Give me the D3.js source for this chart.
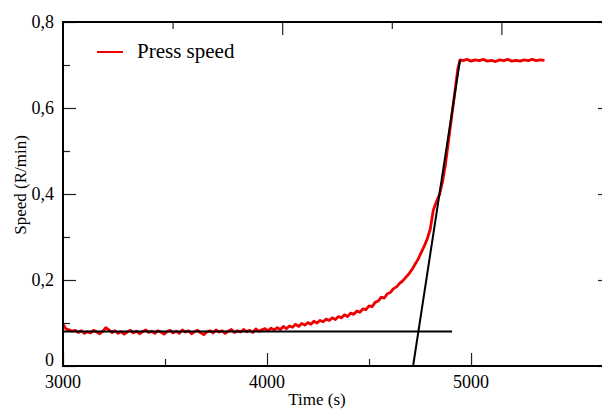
<!DOCTYPE html>
<html>
<head>
<meta charset="utf-8">
<script src="https://cdn.jsdelivr.net/npm/d3@7"></script>
<style>
  html, body { margin: 0; padding: 0; background: #fff; }
  svg { display: block; }
</style>
</head>
<body>
<svg id="chart" width="602" height="410"></svg>
<script>
// ---- data ----
const times = [
  3000,3015,3030,3045,3060,3075,3090,3105,3120,3135,3150,3165,3180,3195,3210,3225,3240,3255,3270,3285,
  3300,3315,3330,3345,3360,3375,3390,3405,3420,3435,3450,3465,3480,3495,3510,3525,3540,3555,3570,3585,
  3600,3615,3630,3645,3660,3675,3690,3705,3720,3735,3750,3765,3780,3795,3810,3825,3840,3855,3870,3885,
  3900,3915,3930,3945,3960,3975,3990,
  4005,4020,4035,4050,4065,4080,4095,4110,4125,4140,4155,4170,4185,4200,4215,4230,4245,4260,4275,4290,
  4305,4320,4335,4350,4365,4380,4395,4410,4425,4440,4455,4470,4485,4500,4515,4530,4545,4560,4575,4590,
  4605,4620,4635,4650,4665,4680,4695,4710,4725,4740,4755,4770,4785,4800,4815,4830,4845,4860,4875,4890,
  4905,4920,4935,4946,
  4960,4980,5000,5020,5040,5060,5080,5100,5120,5140,5160,5180,5200,5220,5240,5260,5280,5300,5320,5340,5360
];
const pressSpeed = [
  0.097,0.086,0.084,0.081,0.083,0.078,0.082,0.076,0.080,0.077,0.083,0.079,0.075,0.081,0.089,0.084,0.078,0.082,0.076,0.080,
  0.074,0.079,0.083,0.077,0.081,0.075,0.080,0.084,0.078,0.081,0.076,0.082,0.079,0.074,0.080,0.083,0.077,0.081,0.076,0.084,
  0.079,0.082,0.075,0.080,0.083,0.077,0.073,0.079,0.082,0.077,0.084,0.079,0.082,0.076,0.081,0.085,0.078,0.082,0.079,0.085,
  0.080,0.083,0.078,0.086,0.081,0.084,0.087,
  0.082,0.088,0.084,0.089,0.085,0.092,0.087,0.093,0.090,0.097,0.092,0.099,0.095,0.101,0.097,0.104,0.100,0.106,0.103,0.109,
  0.106,0.112,0.108,0.115,0.112,0.119,0.115,0.123,0.120,0.128,0.125,0.133,0.131,0.140,0.138,0.148,0.151,0.160,0.158,0.168,
  0.171,0.180,0.184,0.192,0.198,0.206,0.214,0.224,0.236,0.248,0.263,0.278,0.295,0.318,0.362,0.382,0.398,0.428,0.470,0.525,
  0.580,0.635,0.690,0.712,
  0.710,0.713,0.709,0.712,0.710,0.713,0.709,0.711,0.708,0.712,0.710,0.713,0.709,0.711,0.709,0.712,0.710,0.713,0.710,0.712,0.711
];
const baseFitT = [3000, 4907];
const baseFitV = [0.08, 0.08];
const rampFitT = [4716, 4946];
const rampFitV = [0, 0.712];
const yTicks = [0, 0.2, 0.4, 0.6, 0.8];
const yMinorTicks = [0.1, 0.3, 0.5, 0.7];
const yTickLabels = ["0", "0,2", "0,4", "0,6", "0,8"];
const xTicks = [3000, 4000, 5000];
const xMinorTicks = [3500, 4500];
const xTickLabels = ["3000", "4000", "5000"];
const topTicks = [4000, 5000];
const topMinorTicks = [3500, 4500];
const seriesName = "Press speed";

// ---- layout ----
const FONT = "'Liberation Serif', 'Times New Roman', serif";
const svg = d3.select("#chart");
const L = 63, R = 611, T = 22, B = 366;
const x = d3.scaleLinear().domain([3000, 5686]).range([L, R]);
const xTop = d3.scaleLinear().domain([3000, 5500]).range([L, R]);
const y = d3.scaleLinear().domain([0, 0.8]).range([B, T]);

svg.append("rect").attr("width", 602).attr("height", 410).attr("fill", "#fff");

// data lines
const line = d3.line().x(d => x(d[0])).y(d => y(d[1]));
svg.append("path")
  .datum(times.map((t, i) => [t, pressSpeed[i]]))
  .attr("d", line)
  .attr("fill", "none").attr("stroke", "#ee0000")
  .attr("stroke-width", 2.8).attr("stroke-linejoin", "round");

svg.append("path")
  .datum(baseFitT.map((t, i) => [t, baseFitV[i]]))
  .attr("d", line).attr("fill", "none").attr("stroke", "#000").attr("stroke-width", 2);
svg.append("path")
  .datum(rampFitT.map((t, i) => [t, rampFitV[i]]))
  .attr("d", line).attr("fill", "none").attr("stroke", "#000").attr("stroke-width", 2);

// axes
const gB = svg.append("g").attr("transform", `translate(0,${B})`)
  .call(d3.axisTop(x).tickValues(xTicks).tickSize(13).tickFormat(""));
const gBm = svg.append("g").attr("transform", `translate(0,${B})`)
  .call(d3.axisTop(x).tickValues(xMinorTicks).tickSize(7).tickFormat(""));
const gT = svg.append("g").attr("transform", `translate(0,${T})`)
  .call(d3.axisBottom(xTop).tickValues(topTicks).tickSize(13).tickFormat(""));
const gTm = svg.append("g").attr("transform", `translate(0,${T})`)
  .call(d3.axisBottom(xTop).tickValues(topMinorTicks).tickSize(7).tickFormat(""));
const gL = svg.append("g").attr("transform", `translate(${L},0)`)
  .call(d3.axisRight(y).tickValues(yTicks).tickSize(13).tickFormat(""));
const gLm = svg.append("g").attr("transform", `translate(${L},0)`)
  .call(d3.axisRight(y).tickValues(yMinorTicks).tickSize(7).tickFormat(""));
const gR = svg.append("g").attr("transform", `translate(${R},0)`)
  .call(d3.axisLeft(y).tickValues(yTicks).tickSize(13).tickFormat(""));
const gRm = svg.append("g").attr("transform", `translate(${R},0)`)
  .call(d3.axisLeft(y).tickValues(yMinorTicks).tickSize(7).tickFormat(""));
[gB, gBm, gT, gTm, gL, gLm, gR, gRm].forEach(g => {
  g.select(".domain").remove();
  g.selectAll(".tick line").attr("stroke", "#222").attr("stroke-width", 1.2);
});

// frame
svg.append("rect").attr("x", L).attr("y", T).attr("width", R - L).attr("height", B - T)
  .attr("fill", "none").attr("stroke", "#000").attr("stroke-width", 2);

// tick labels
svg.append("g").selectAll("text").data(yTicks).join("text")
  .attr("font-family", FONT)
  .attr("x", 54).attr("y", (d, i) => y(d) + 6 - (i === 0 ? 6 : 0))
  .attr("text-anchor", "end").attr("font-size", 18)
  .text((d, i) => yTickLabels[i]);
svg.append("g").selectAll("text").data(xTicks).join("text")
  .attr("font-family", FONT)
  .attr("x", d => x(d)).attr("y", 388)
  .attr("text-anchor", "middle").attr("font-size", 18)
  .text((d, i) => xTickLabels[i]);

// axis titles
svg.append("text").attr("font-family", FONT).attr("x", 317).attr("y", 405).attr("text-anchor", "middle")
  .attr("font-size", 17).text("Time (s)");
svg.append("text").attr("font-family", FONT).attr("transform", "translate(26,185) rotate(-90)")
  .attr("text-anchor", "middle").attr("font-size", 17).text("Speed (R/min)");

// legend
svg.append("line").attr("x1", 97).attr("x2", 123).attr("y1", 52).attr("y2", 52)
  .attr("stroke", "#ee0000").attr("stroke-width", 2);
svg.append("text").attr("font-family", FONT).attr("x", 137).attr("y", 58)
  .attr("font-size", 21).text(seriesName);
</script>
</body>
</html>
